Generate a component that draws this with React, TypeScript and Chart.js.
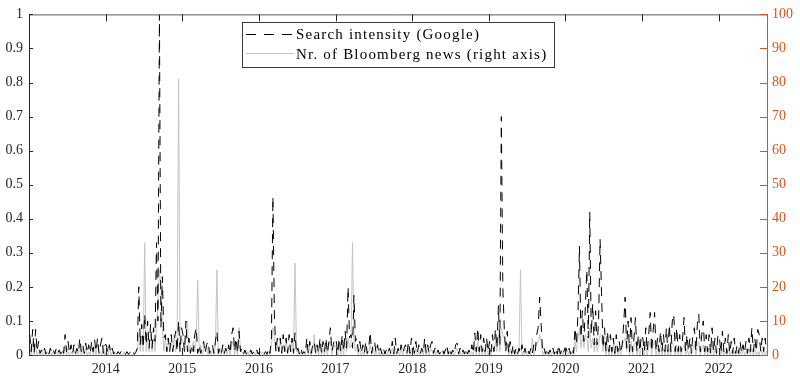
import { useEffect, useRef } from "react";
import { Chart, registerables } from "chart.js";

Chart.register(...registerables);

// ---- data (weekly readings, one array per calendar year) ----
const firstYear = 2013;
const weeksPerYear = 52;

const google2013 = [0.06,0.01,0.075,0.005,0.075,0.01,0.04,0.005,0.015,0.003, 0.02,0.003,0.015,0.003,0.02,0.005,0.015,0.003,0.02,0.005, 0.015,0.003,0.02,0.005,0.06,0.01,0.04,0.005,0.03,0.003, 0.03,0.005,0.02,0.005,0.05,0.01,0.03,0.005,0.035,0.005, 0.03,0.005,0.04,0.01,0.045,0.01,0.05,0.005,0.03,0.05, 0.005,0.03];
const google2014 = [0.03,0.005,0.03,0.005,0.02,0.003,0.015,0.003,0.01,0.003, 0.01,0.002,0.008,0.002,0.01,0.002,0.008,0.002,0.01,0.002, 0.008,0.02,0.2,0.03,0.09,0.02,0.12,0.03,0.1,0.02, 0.09,0.02,0.08,0.04,0.33,0.1,1.0,0.08,0.23,0.05, 0.06,0.01,0.05,0.01,0.06,0.01,0.04,0.07,0.01,0.1, 0.01,0.08];
const google2015 = [0.06,0.01,0.1,0.01,0.05,0.005,0.03,0.01,0.06,0.08, 0.005,0.03,0.005,0.02,0.04,0.005,0.03,0.04,0.005,0.02, 0.03,0.005,0.04,0.07,0.005,0.02,0.005,0.03,0.005,0.02, 0.005,0.03,0.005,0.06,0.08,0.01,0.05,0.005,0.07,0.01, 0.02,0.003,0.015,0.003,0.01,0.003,0.015,0.003,0.01,0.003, 0.015,0.003];
const google2016 = [0.01,0.002,0.008,0.002,0.01,0.002,0.02,0.005,0.05,0.465, 0.12,0.01,0.05,0.01,0.05,0.005,0.06,0.01,0.05,0.005, 0.06,0.01,0.05,0.005,0.065,0.005,0.02,0.003,0.02,0.003, 0.01,0.003,0.05,0.005,0.04,0.005,0.03,0.04,0.005,0.03, 0.005,0.05,0.005,0.04,0.01,0.05,0.005,0.04,0.08,0.01, 0.03,0.05];
const google2017 = [0.04,0.005,0.05,0.01,0.06,0.01,0.07,0.02,0.2,0.05, 0.06,0.02,0.175,0.04,0.05,0.01,0.04,0.005,0.03,0.005, 0.04,0.005,0.02,0.068,0.005,0.03,0.04,0.005,0.03,0.003, 0.02,0.003,0.02,0.003,0.015,0.003,0.02,0.005,0.04,0.003, 0.05,0.005,0.02,0.003,0.03,0.005,0.02,0.03,0.005,0.04, 0.005,0.05];
const google2018 = [0.03,0.005,0.04,0.005,0.03,0.005,0.02,0.005,0.05,0.005, 0.03,0.005,0.03,0.04,0.005,0.02,0.003,0.015,0.003,0.01, 0.02,0.003,0.015,0.03,0.003,0.02,0.003,0.015,0.003,0.03, 0.035,0.003,0.02,0.003,0.015,0.003,0.02,0.003,0.015,0.003, 0.03,0.005,0.065,0.01,0.08,0.01,0.06,0.01,0.05,0.01, 0.05,0.01];
const google2019 = [0.04,0.01,0.06,0.01,0.077,0.02,0.145,0.03,0.7,0.2, 0.077,0.01,0.07,0.005,0.04,0.005,0.03,0.003,0.02,0.003, 0.02,0.003,0.03,0.003,0.02,0.003,0.015,0.003,0.02,0.003, 0.03,0.01,0.06,0.08,0.17,0.09,0.01,0.02,0.003,0.02, 0.003,0.015,0.003,0.02,0.003,0.02,0.003,0.03,0.003,0.015, 0.003,0.02];
const google2020 = [0.02,0.003,0.02,0.003,0.02,0.005,0.08,0.03,0.12,0.32, 0.05,0.13,0.04,0.14,0.25,0.05,0.42,0.06,0.15,0.03, 0.13,0.03,0.1,0.34,0.18,0.02,0.08,0.01,0.07,0.01, 0.06,0.01,0.05,0.005,0.06,0.01,0.04,0.005,0.03,0.09, 0.17,0.02,0.1,0.01,0.11,0.01,0.05,0.11,0.01,0.06, 0.01,0.06];
const google2021 = [0.05,0.01,0.08,0.01,0.06,0.125,0.01,0.07,0.125,0.01, 0.05,0.01,0.07,0.01,0.06,0.01,0.08,0.01,0.09,0.01, 0.1,0.12,0.01,0.08,0.01,0.06,0.01,0.05,0.11,0.01, 0.06,0.01,0.05,0.005,0.06,0.08,0.01,0.09,0.12,0.01, 0.06,0.1,0.01,0.06,0.01,0.06,0.005,0.08,0.01,0.05, 0.005,0.06];
const google2022 = [0.05,0.005,0.07,0.01,0.05,0.005,0.06,0.005,0.04,0.005, 0.05,0.005,0.03,0.005,0.04,0.005,0.03,0.005,0.04,0.005, 0.05,0.01,0.08,0.01,0.05,0.01,0.075,0.06,0.01,0.05, 0.01,0.05,0.01];

const news2013 = [3,0,4,0,3,0,1,0,1,0, 1,0,1,0,1,0,1,0,1,0, 1,0,1,0,3,0,1,0,1,0, 2,0,1,0,3,0,2,0,2,0, 1,0,3,0,2,0,3,0,1,0, 3,0];
const news2014 = [1,0,2,0,1,0,1,0,1,0, 0,0,1,0,0,0,1,0,0,0, 1,2,6,1,5,1,33,1,5,1, 6,1,5,1,8,15,25,20,8,1, 5,1,5,1,4,1,6,1,3,81, 1,5];
const news2015 = [4,1,5,10,1,3,1,4,1,5, 22,1,3,0,2,1,3,0,2,0, 2,0,3,25,0,2,0,2,0,2, 0,2,0,3,4,0,3,0,8,1, 1,0,1,0,1,0,1,0,1,0, 1,0];
const news2016 = [0,0,1,0,0,0,1,0,3,8, 5,1,3,1,4,1,3,1,4,1, 3,1,4,1,27,1,1,0,1,0, 1,0,3,0,2,0,1,6,0,2, 0,3,0,2,0,3,0,3,4,0, 2,3];
const news2017 = [2,0,3,0,3,0,4,1,5,2, 3,33,4,1,3,0,2,0,1,0, 2,0,1,3,0,2,0,1,0,1, 0,1,0,1,0,1,0,1,2,0, 2,0,1,0,2,0,1,2,0,2, 0,2];
const news2018 = [1,0,2,0,1,0,1,0,3,0, 2,0,2,1,0,1,0,1,0,1, 1,0,1,2,0,1,0,1,0,1, 2,0,1,0,1,0,1,0,1,0, 1,0,3,0,4,0,3,0,2,0, 4,0];
const news2019 = [2,0,3,1,4,1,6,1,8,6, 5,1,3,0,2,0,2,0,1,0, 1,25,0,1,0,1,0,1,0,5, 0,2,3,4,6,4,0,1,0,1, 0,1,0,1,0,1,0,2,0,1, 0,1];
const news2020 = [1,0,1,0,1,0,4,1,5,8, 2,6,2,6,5,1,8,2,5,1, 4,1,3,6,5,1,4,0,3,0, 3,0,3,0,3,0,2,0,3,4, 5,1,4,0,4,0,3,4,0,2, 0,3];
const news2021 = [2,0,3,0,2,4,0,3,4,0, 2,0,3,0,2,0,3,0,2,0, 4,3,0,3,0,2,0,2,3,0, 2,0,1,0,2,3,0,3,4,0, 2,3,0,2,0,2,0,3,0,2, 0,2];
const news2022 = [2,0,2,0,1,0,2,0,1,0, 1,0,1,0,1,0,2,0,1,0, 2,0,2,0,2,0,1,0,2,0, 1,0,1];

const googleByYear = [google2013, google2014, google2015, google2016, google2017, google2018, google2019, google2020, google2021, google2022];
const newsByYear = [news2013, news2014, news2015, news2016, news2017, news2018, news2019, news2020, news2021, news2022];

const xTickYears = [2014, 2015, 2016, 2017, 2018, 2019, 2020, 2021, 2022];
const leftTickValues = [0, 0.1, 0.2, 0.3, 0.4, 0.5, 0.6, 0.7, 0.8, 0.9, 1];
const rightTickValues = [0, 10, 20, 30, 40, 50, 60, 70, 80, 90, 100];
const xMin = 2013.0;
const xMax = 2022.63;

const seriesLabels = ["Search intensity (Google)", "Nr. of Bloomberg news (right axis)"];

function toPoints(byYear: number[][]) {
  const pts: { x: number; y: number }[] = [];
  byYear.forEach((arr, yi) => {
    arr.forEach((v, k) => {
      pts.push({ x: firstYear + yi + (k + 0.5) / weeksPerYear, y: v });
    });
  });
  return pts;
}

const ORANGE = "#D95319";
const AXIS = "#262626";
const NEWS_GRAY = "#c4c4c4";
const FONT = "'Liberation Serif', 'Times New Roman', serif";
const DASH = [9, 7];

const framePlugin = {
  id: "frame",
  afterDatasetsDraw(chart: any) {
    const { ctx, chartArea } = chart;
    const { left, right, top, bottom } = chartArea;
    const xs = chart.scales.x;
    const ys = chart.scales.y;
    const ys2 = chart.scales.y2;
    ctx.save();
    ctx.lineWidth = 1;
    ctx.setLineDash([]);
    ctx.strokeStyle = "#5a5a5a";
    ctx.beginPath();
    ctx.moveTo(left, top + 0.5);
    ctx.lineTo(right + 1, top + 0.5);
    ctx.moveTo(left, bottom + 0.5);
    ctx.lineTo(right + 1, bottom + 0.5);
    ctx.stroke();
    ctx.strokeStyle = AXIS;
    ctx.beginPath();
    xTickYears.forEach((v) => {
      const px = Math.round(xs.getPixelForValue(v)) + 0.5;
      ctx.moveTo(px, bottom);
      ctx.lineTo(px, bottom - 7);
      ctx.moveTo(px, top);
      ctx.lineTo(px, top + 7);
    });
    ctx.stroke();
    ctx.strokeStyle = AXIS;
    ctx.beginPath();
    ctx.moveTo(left + 0.5, top);
    ctx.lineTo(left + 0.5, bottom + 1);
    leftTickValues.forEach((v) => {
      const py = Math.round(ys.getPixelForValue(v)) + 0.5;
      ctx.moveTo(left, py);
      ctx.lineTo(left + 4, py);
    });
    ctx.stroke();
    ctx.strokeStyle = ORANGE;
    ctx.beginPath();
    ctx.moveTo(right + 0.5, top);
    ctx.lineTo(right + 0.5, bottom + 1);
    rightTickValues.forEach((v) => {
      const py = Math.round(ys2.getPixelForValue(v)) + 0.5;
      ctx.moveTo(right + 1, py);
      ctx.lineTo(right - 7, py);
    });
    ctx.stroke();
    ctx.restore();
  },
};

const legendPlugin = {
  id: "boxLegend",
  afterDraw(chart: any) {
    const { ctx } = chart;
    const bx = 242;
    const by = 22;
    const bw = 312;
    const bh = 45;
    ctx.save();
    ctx.fillStyle = "#ffffff";
    ctx.fillRect(bx, by, bw, bh);
    ctx.strokeStyle = "#3c3c3c";
    ctx.lineWidth = 1;
    ctx.strokeRect(bx + 0.5, by + 0.5, bw, bh);
    ctx.beginPath();
    ctx.strokeStyle = "#000000";
    ctx.setLineDash([10, 8]);
    ctx.moveTo(246, 34.5);
    ctx.lineTo(294, 34.5);
    ctx.stroke();
    ctx.setLineDash([]);
    ctx.beginPath();
    ctx.strokeStyle = NEWS_GRAY;
    ctx.moveTo(246, 53.5);
    ctx.lineTo(294, 53.5);
    ctx.stroke();
    ctx.fillStyle = "#000000";
    ctx.font = `15px ${FONT}`;
    (ctx as any).letterSpacing = "1.2px";
    ctx.textAlign = "left";
    ctx.textBaseline = "alphabetic";
    ctx.fillText(seriesLabels[0], 296, 39);
    ctx.fillText(seriesLabels[1], 296, 59);
    ctx.restore();
  },
};

export default function App() {
  const ref = useRef<HTMLCanvasElement | null>(null);

  useEffect(() => {
    document.body.style.margin = "0";
    const canvas = ref.current;
    if (!canvas) return;
    const chart = new Chart(canvas, {
      type: "line",
      data: {
        datasets: [
          {
            label: seriesLabels[0],
            data: toPoints(googleByYear),
            yAxisID: "y",
            borderColor: "#000000",
            borderWidth: 1,
            borderDash: DASH,
            pointRadius: 0,
            tension: 0,
            fill: false,
          },
          {
            label: seriesLabels[1],
            data: toPoints(newsByYear),
            yAxisID: "y2",
            borderColor: NEWS_GRAY,
            borderWidth: 1,
            pointRadius: 0,
            tension: 0,
            fill: false,
          },
        ],
      },
      options: {
        animation: false,
        responsive: false,
        devicePixelRatio: 1,
        layout: { padding: { top: 10, left: 0, right: 0, bottom: 0 } },
        plugins: {
          legend: { display: false },
          tooltip: { enabled: false },
        },
        scales: {
          x: {
            type: "linear",
            min: xMin,
            max: xMax,
            grid: { display: false, drawTicks: false },
            border: { display: false },
            afterBuildTicks: (scale: any) => {
              scale.ticks = xTickYears.map((value) => ({ value }));
            },
            afterFit: (scale: any) => {
              scale.height = 26;
            },
            ticks: {
              autoSkip: false,
              maxRotation: 0,
              padding: 6,
              color: AXIS,
              font: { family: FONT, size: 14 },
              callback: (v: any) => String(v),
            },
          },
          y: {
            type: "linear",
            position: "left",
            min: 0,
            max: 1,
            grid: { display: false, drawTicks: false },
            border: { display: false },
            afterBuildTicks: (scale: any) => {
              scale.ticks = leftTickValues.map((value) => ({ value }));
            },
            afterFit: (scale: any) => {
              scale.width = 29;
            },
            ticks: {
              padding: 6,
              color: AXIS,
              font: { family: FONT, size: 14 },
              callback: (v: any) => String(Number(Number(v).toFixed(1))),
            },
          },
          y2: {
            type: "linear",
            position: "right",
            min: 0,
            max: 100,
            grid: { display: false, drawTicks: false },
            border: { display: false },
            afterBuildTicks: (scale: any) => {
              scale.ticks = rightTickValues.map((value) => ({ value }));
            },
            afterFit: (scale: any) => {
              scale.width = 33;
            },
            ticks: {
              padding: 5,
              color: ORANGE,
              font: { family: FONT, size: 14 },
              callback: (v: any) => String(v),
            },
          },
        },
      },
      plugins: [framePlugin, legendPlugin],
    });
    return () => chart.destroy();
  }, []);

  return (
    <div style={{ width: 800, height: 381 }}>
      <canvas ref={ref} width={800} height={381} />
    </div>
  );
}
